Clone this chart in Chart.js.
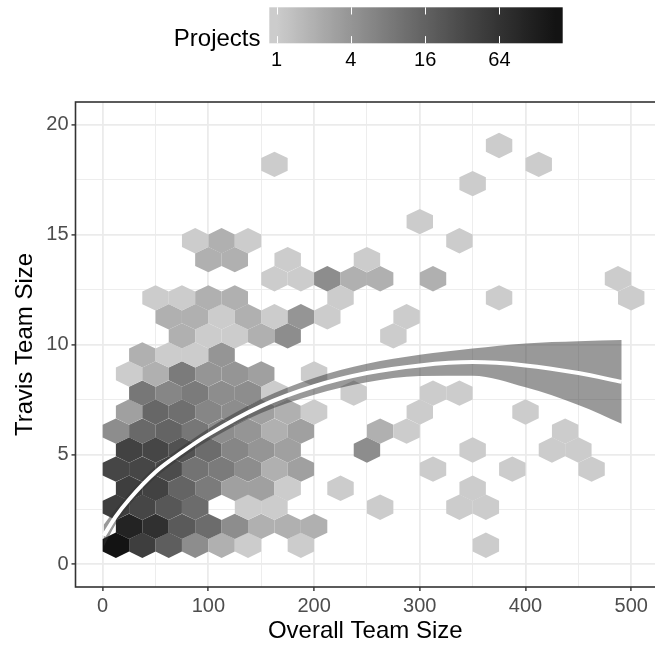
<!DOCTYPE html>
<html>
<head>
<meta charset="utf-8">
<script src="https://cdn.jsdelivr.net/npm/chart.js@4.4.1/dist/chart.umd.min.js"></script>
<style>
    html, body { margin: 0; padding: 0; background: #FFFFFF; overflow: hidden; }
    canvas { display: block; }
</style>
</head>
<body>
<canvas id="hex_chart" width="655" height="648"></canvas>
<script>
//hex bins: centre x, centre y, projects in the bin (one line per row)
const hexX = [
    12.5, 37.5, 62.5, 87.5, 112.5, 137.5, 187.5, 362.5,
    25, 50, 75, 100, 125, 150, 175, 200,
    12.5, 37.5, 62.5, 87.5, 137.5, 162.5, 262.5, 337.5, 362.5,
    25, 50, 75, 100, 125, 150, 175, 225, 350,
    12.5, 37.5, 62.5, 87.5, 112.5, 137.5, 162.5, 187.5, 312.5, 387.5, 462.5,
    25, 50, 75, 100, 125, 150, 175, 250, 350, 425, 450,
    12.5, 37.5, 62.5, 87.5, 112.5, 137.5, 162.5, 187.5, 262.5, 287.5, 437.5,
    25, 50, 75, 100, 125, 150, 175, 200, 300, 400,
    37.5, 62.5, 87.5, 112.5, 137.5, 162.5, 237.5, 312.5, 337.5,
    25, 50, 75, 100, 125, 150, 200,
    37.5, 62.5, 87.5, 112.5,
    75, 100, 125, 150, 175, 275,
    62.5, 87.5, 112.5, 137.5, 162.5, 187.5, 212.5, 287.5,
    50, 75, 100, 125, 225, 375, 500,
    162.5, 187.5, 212.5, 237.5, 262.5, 312.5, 487.5,
    100, 125, 175, 250,
    87.5, 112.5, 137.5, 337.5,
    300,
    350,
    162.5, 412.5,
    375
];
const hexY = [
    0.87, 0.87, 0.87, 0.87, 0.87, 0.87, 0.87, 0.87,
    1.73, 1.73, 1.73, 1.73, 1.73, 1.73, 1.73, 1.73,
    2.6, 2.6, 2.6, 2.6, 2.6, 2.6, 2.6, 2.6, 2.6,
    3.46, 3.46, 3.46, 3.46, 3.46, 3.46, 3.46, 3.46, 3.46,
    4.33, 4.33, 4.33, 4.33, 4.33, 4.33, 4.33, 4.33, 4.33, 4.33, 4.33,
    5.2, 5.2, 5.2, 5.2, 5.2, 5.2, 5.2, 5.2, 5.2, 5.2, 5.2,
    6.06, 6.06, 6.06, 6.06, 6.06, 6.06, 6.06, 6.06, 6.06, 6.06, 6.06,
    6.93, 6.93, 6.93, 6.93, 6.93, 6.93, 6.93, 6.93, 6.93, 6.93,
    7.79, 7.79, 7.79, 7.79, 7.79, 7.79, 7.79, 7.79, 7.79,
    8.66, 8.66, 8.66, 8.66, 8.66, 8.66, 8.66,
    9.53, 9.53, 9.53, 9.53,
    10.39, 10.39, 10.39, 10.39, 10.39, 10.39,
    11.26, 11.26, 11.26, 11.26, 11.26, 11.26, 11.26, 11.26,
    12.12, 12.12, 12.12, 12.12, 12.12, 12.12, 12.12,
    12.99, 12.99, 12.99, 12.99, 12.99, 12.99, 12.99,
    13.86, 13.86, 13.86, 13.86,
    14.72, 14.72, 14.72, 14.72,
    15.59,
    17.32,
    18.19, 18.19,
    19.05
];
const hexCount = [
    182, 45, 18, 5, 2, 1, 1, 1,
    105, 70, 20, 12, 5, 2, 2, 2,
    45, 36, 22, 12, 1, 1, 1, 1, 1,
    45, 40, 15, 8, 3, 3, 1, 1, 1,
    36, 36, 30, 10, 8, 5, 2, 3, 1, 1, 1,
    40, 36, 25, 12, 6, 4, 3, 5, 1, 1, 1,
    5, 13, 15, 9, 5, 4, 2, 3, 2, 1, 1,
    3, 14, 11, 6, 5, 3, 2, 1, 1, 1,
    9, 6, 8, 5, 5, 1, 1, 1, 1,
    1, 2, 8, 4, 4, 3, 1,
    2, 1, 1, 4,
    2, 1, 1, 2, 5, 1,
    2, 2, 1, 2, 1, 4, 1, 1,
    1, 1, 2, 2, 1, 1, 1,
    1, 1, 5, 2, 2, 2, 1,
    2, 2, 1, 1,
    1, 2, 1, 1,
    1,
    1,
    1, 1,
    1
];

//smoother and its confidence band
const smoothX = [1, 12, 25, 50, 75, 100, 150, 200, 250, 300, 350, 400, 450, 491];
const smoothFit = [1.3, 2.15, 2.95, 4.2, 5.1, 5.9, 7.2, 8.1, 8.7, 9.05, 9.2, 9.05, 8.7, 8.3];
const smoothLo = [0.8, 1.8, 2.67, 3.95, 4.85, 5.63, 6.88, 7.72, 8.28, 8.57, 8.58, 8.05, 7.25, 6.4];
const smoothHi = [1.8, 2.5, 3.23, 4.45, 5.35, 6.17, 7.52, 8.48, 9.12, 9.53, 9.82, 10.05, 10.15, 10.2];

//axis and legend ticks
const xTicks = [0, 100, 200, 300, 400, 500];
const yTicks = [0, 5, 10, 15, 20];
const legendTicks = [1, 4, 16, 64];
//

const fontFamily = '"Liberation Sans", Arial, Helvetica, sans-serif';
const hexHalfW = 12.5;
const hexR = 0.577;

//minor grid lines half way between the labelled ones
const withMinor = (ticks) => {
    const out = [];
    ticks.forEach((t, i) => {
        out.push(t);
        if (i < ticks.length - 1) out.push((t + ticks[i + 1]) / 2);
    });
    return out;
};
const xGrid = withMinor(xTicks);
const yGrid = withMinor(yTicks);

//grey gradient, interpolated on lightness like ggplot does
const lowGray = 204;
const highGray = 19;
const toLin = g => {
    const c = g / 255;
    return c <= 0.04045 ? c / 12.92 : Math.pow((c + 0.055) / 1.055, 2.4);
};
const toL = g => {
    const y = toLin(g);
    return y > 0.008856 ? 116 * Math.cbrt(y) - 16 : 903.3 * y;
};
const fromL = L => {
    const y = L > 8 ? Math.pow((L + 16) / 116, 3) : L / 903.3;
    const c = y <= 0.0031308 ? 12.92 * y : 1.055 * Math.pow(y, 1 / 2.4) - 0.055;
    return Math.round(Math.min(1, Math.max(0, c)) * 255);
};
const maxCount = Math.max(...hexCount);
const shade = (t) => {
    const L = toL(lowGray) + (toL(highGray) - toL(lowGray)) * t;
    const g = fromL(L);
    return `rgb(${g},${g},${g})`;
};
const countShade = n => shade(Math.log(n) / Math.log(maxCount));

//hexagons, drawn under the smoother
const hexPlugin = {
    id: 'hexes',
    beforeDatasetsDraw(chart) {
        const { ctx, chartArea, scales: { x, y } } = chart;
        ctx.save();
        ctx.beginPath();
        ctx.rect(chartArea.left, chartArea.top, chartArea.right - chartArea.left, chartArea.bottom - chartArea.top);
        ctx.clip();
        hexX.forEach((cx, i) => {
            const cy = hexY[i];
            const corners = [
                [cx, cy + hexR], [cx + hexHalfW, cy + hexR / 2], [cx + hexHalfW, cy - hexR / 2],
                [cx, cy - hexR], [cx - hexHalfW, cy - hexR / 2], [cx - hexHalfW, cy + hexR / 2]
            ];
            ctx.beginPath();
            corners.forEach(([vx, vy], j) => {
                const px = x.getPixelForValue(vx);
                const py = y.getPixelForValue(vy);
                if (j === 0) ctx.moveTo(px, py); else ctx.lineTo(px, py);
            });
            ctx.closePath();
            ctx.fillStyle = countShade(hexCount[i]);
            ctx.fill();
        });
        ctx.restore();
    }
};

//panel border and the colour bar legend on top
const framePlugin = {
    id: 'frame',
    afterDraw(chart) {
        const { ctx, chartArea } = chart;
        ctx.save();
        ctx.strokeStyle = '#333333';
        ctx.lineWidth = 1.6;
        ctx.strokeRect(chartArea.left, chartArea.top, chartArea.right - chartArea.left + 20, chartArea.bottom - chartArea.top);

        // colour bar
        const barLeft = 269.3, barTop = 7.3, barW = 293.4, barH = 36, nbin = 20;
        const grad = ctx.createLinearGradient(barLeft, 0, barLeft + barW, 0);
        for (let s = 0; s <= 80; s++) {
            const p = s / 80;
            const t = Math.min(1, Math.max(0, (p * nbin - 0.5) / (nbin - 1)));
            grad.addColorStop(p, shade(t));
        }
        ctx.fillStyle = grad;
        ctx.fillRect(barLeft, barTop, barW, barH);

        const tickPos = v => barLeft + barW * ((Math.log(v) / Math.log(maxCount)) * (nbin - 1) + 0.5) / nbin;
        ctx.strokeStyle = '#FFFFFF';
        ctx.lineWidth = 1;
        legendTicks.forEach(v => {
            const px = Math.round(tickPos(v)) + 0.5;
            ctx.beginPath();
            ctx.moveTo(px, barTop);
            ctx.lineTo(px, barTop + barH / 5);
            ctx.moveTo(px, barTop + barH * 4 / 5);
            ctx.lineTo(px, barTop + barH);
            ctx.stroke();
        });

        ctx.fillStyle = '#000000';
        ctx.font = `20px ${fontFamily}`;
        ctx.textAlign = 'center';
        ctx.textBaseline = 'alphabetic';
        legendTicks.forEach(v => ctx.fillText(String(v), tickPos(v), 66));

        ctx.font = `24px ${fontFamily}`;
        ctx.textAlign = 'right';
        ctx.fillText('Projects', 260.5, 46);
        ctx.restore();
    }
};

const gridWidth = (ticks) => (c) => (c.tick && ticks.includes(c.tick.value)) ? 1.8 : 0.9;
const tickColor = (ticks) => (c) => (c.tick && ticks.includes(c.tick.value)) ? '#333333' : 'rgba(0,0,0,0)';

new Chart(document.getElementById('hex_chart'), {
    type: 'line',
    data: {
        datasets: [
            {
                data: smoothX.map((x, i) => ({ x, y: smoothHi[i] })),
                borderWidth: 0,
                pointRadius: 0,
                fill: '+1',
                backgroundColor: 'rgba(51, 51, 51, 0.5)',
                cubicInterpolationMode: 'monotone',
                order: 2
            },
            {
                data: smoothX.map((x, i) => ({ x, y: smoothLo[i] })),
                borderWidth: 0,
                pointRadius: 0,
                fill: false,
                cubicInterpolationMode: 'monotone',
                order: 3
            },
            {
                data: smoothX.map((x, i) => ({ x, y: smoothFit[i] })),
                borderColor: '#FFFFFF',
                borderWidth: 4,
                pointRadius: 0,
                fill: false,
                cubicInterpolationMode: 'monotone',
                order: 0
            }
        ]
    },
    options: {
        responsive: false,
        devicePixelRatio: 1,
        animation: false,
        layout: { padding: { top: 102, left: 0, right: 0, bottom: 0 } },
        plugins: {
            legend: { display: false },
            tooltip: { enabled: false }
        },
        scales: {
            x: {
                type: 'linear',
                min: -25.7,
                max: 522.5,
                afterBuildTicks: (scale) => { scale.ticks = xGrid.map(v => ({ value: v })); },
                afterFit: (scale) => { scale.height = 61; },
                grid: {
                    color: '#EBEBEB',
                    lineWidth: gridWidth(xTicks),
                    tickLength: 4,
                    tickWidth: 1.4,
                    tickColor: tickColor(xTicks)
                },
                border: { display: false },
                ticks: {
                    autoSkip: false,
                    maxRotation: 0,
                    padding: 3,
                    color: '#4D4D4D',
                    font: { family: fontFamily, size: 20 },
                    callback: (v) => xTicks.includes(v) ? String(v) : ''
                },
                title: {
                    display: true,
                    text: 'Overall Team Size',
                    color: '#000000',
                    font: { family: fontFamily, size: 24 },
                    padding: { top: 0, bottom: 2 }
                }
            },
            y: {
                type: 'linear',
                min: -1.03,
                max: 21.03,
                afterBuildTicks: (scale) => { scale.ticks = yGrid.map(v => ({ value: v })); },
                afterFit: (scale) => { scale.width = 75.5; },
                grid: {
                    color: '#EBEBEB',
                    lineWidth: gridWidth(yTicks),
                    tickLength: 4,
                    tickWidth: 1.4,
                    tickColor: tickColor(yTicks)
                },
                border: { display: false },
                ticks: {
                    autoSkip: false,
                    padding: 3,
                    color: '#4D4D4D',
                    font: { family: fontFamily, size: 20 },
                    callback: (v) => yTicks.includes(v) ? String(v) : ''
                },
                title: {
                    display: true,
                    text: 'Travis Team Size',
                    color: '#000000',
                    font: { family: fontFamily, size: 24 },
                    padding: { top: 11, bottom: 0 }
                }
            }
        }
    },
    plugins: [hexPlugin, framePlugin]
});
</script>
</body>
</html>
